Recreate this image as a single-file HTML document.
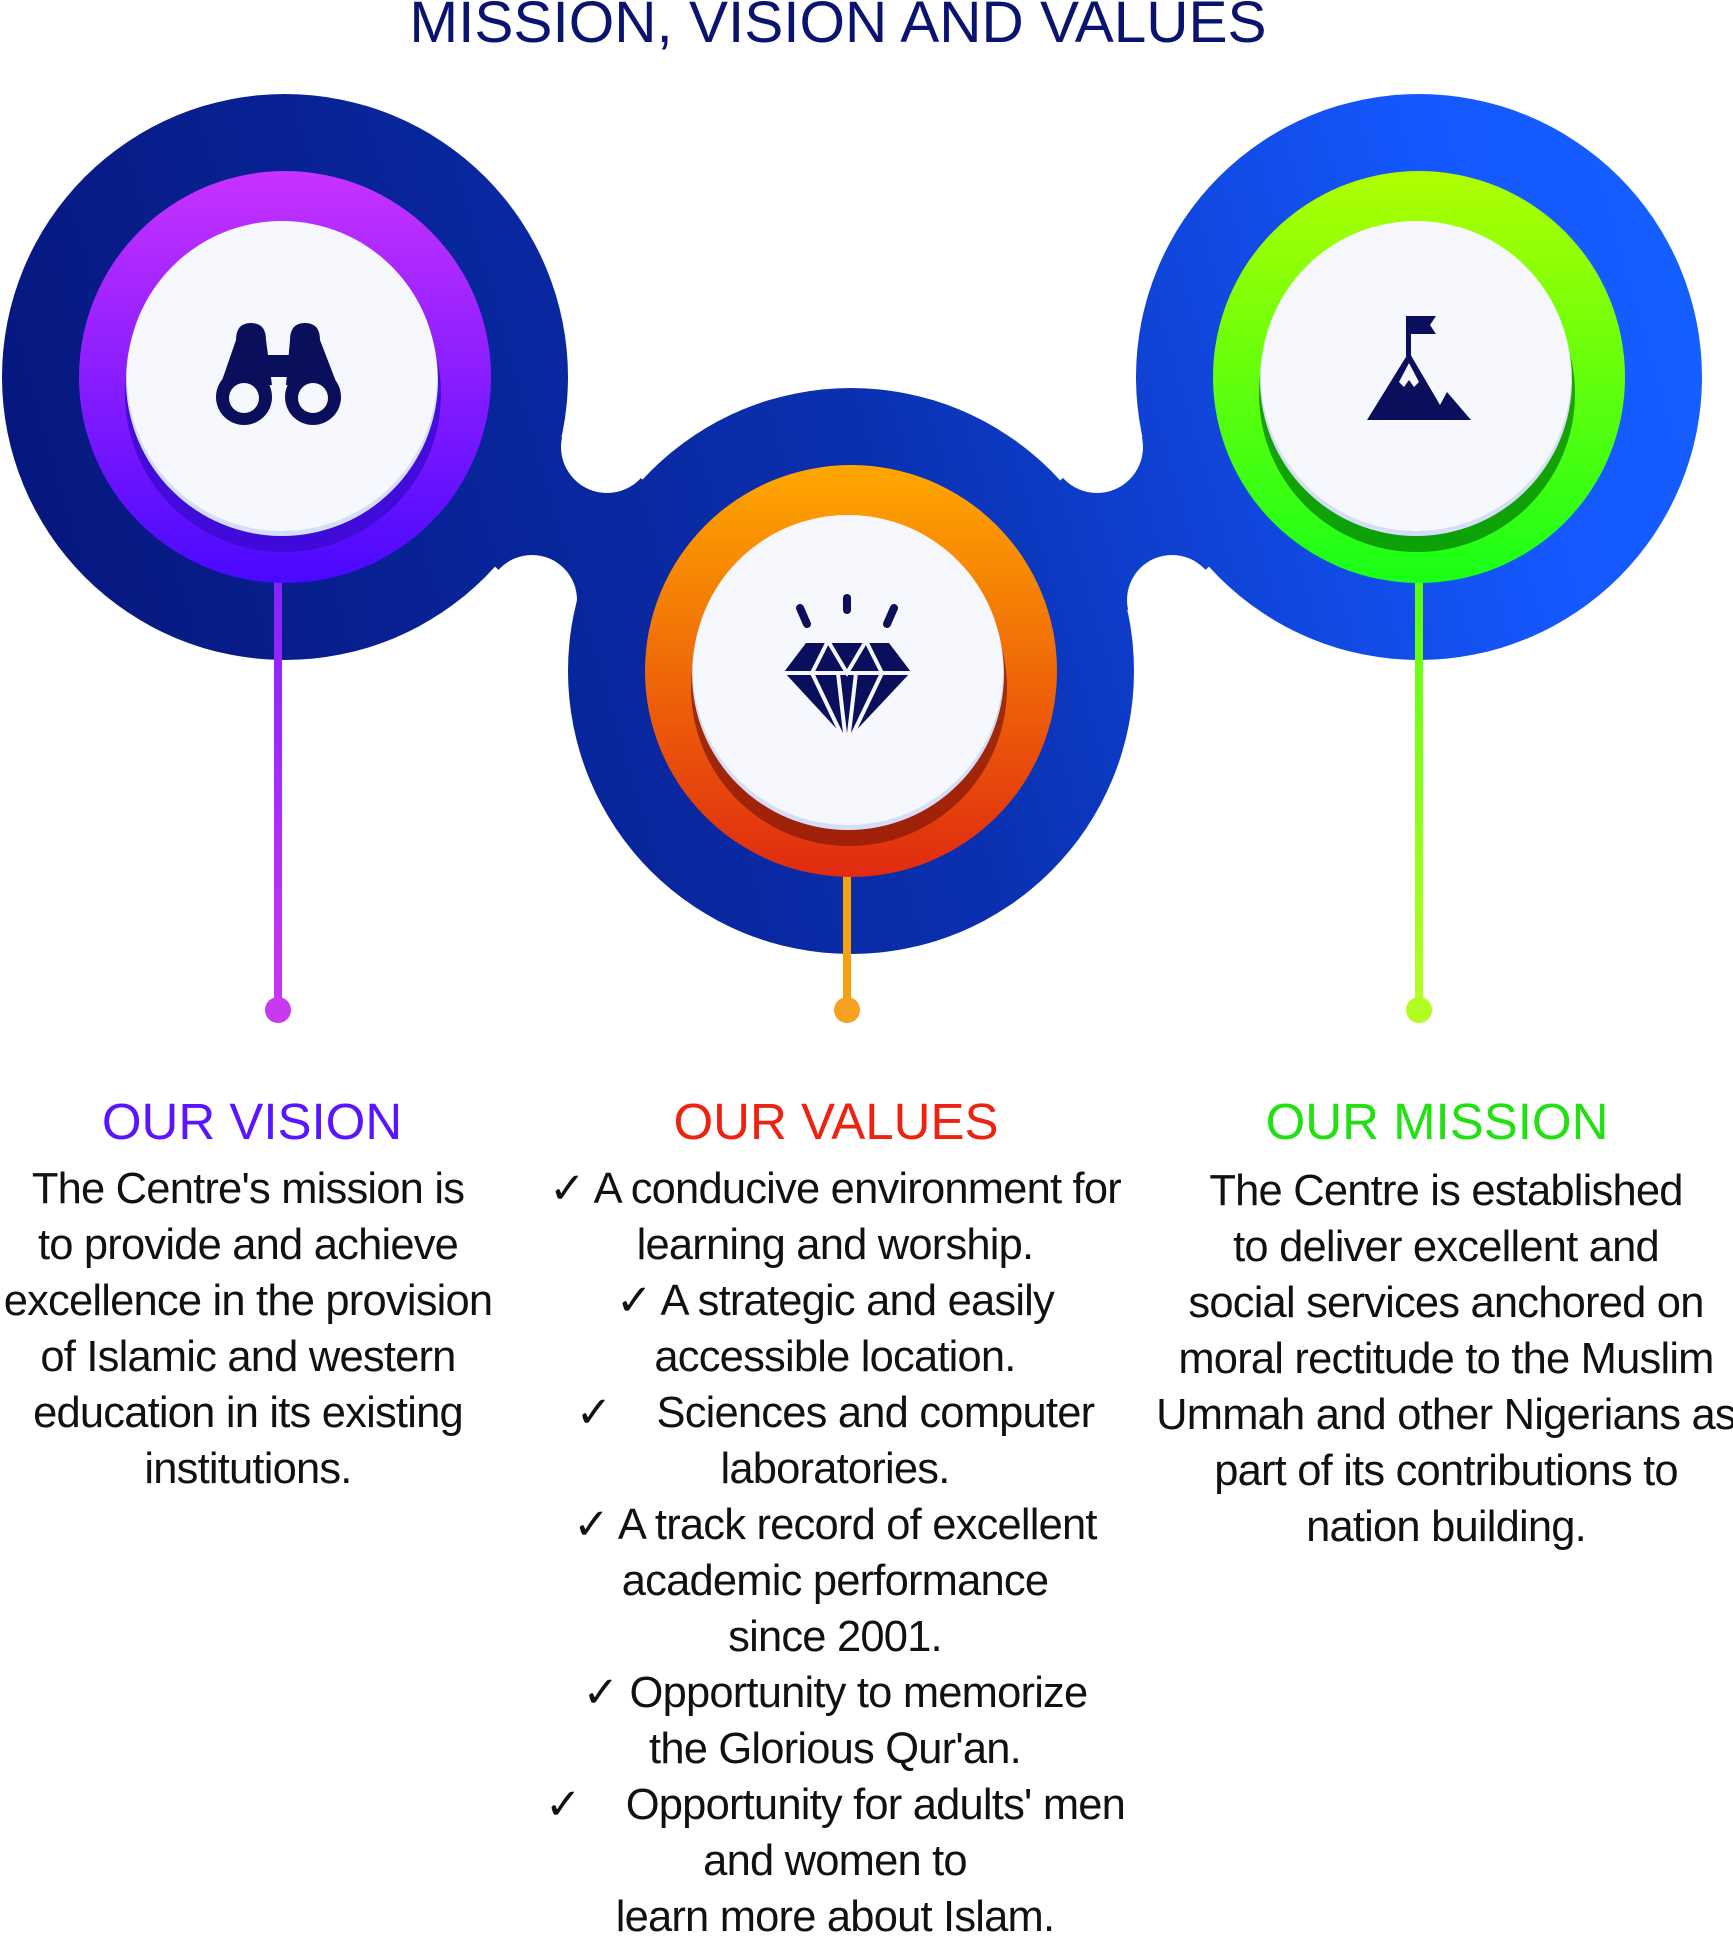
<!DOCTYPE html>
<html><head><meta charset="utf-8"><style>
html,body{margin:0;padding:0;background:#fff}
body{width:1733px;height:1931px;position:relative;overflow:hidden;font-family:"Liberation Sans",sans-serif}
svg{position:absolute;left:0;top:0}
.t{position:absolute;white-space:pre;transform:translateX(-50%);color:#111}
.h{font-size:51px;line-height:60px}
.b{font-size:43.5px;line-height:56px;letter-spacing:-0.8px}
</style></head><body>
<svg width="1733" height="1931" viewBox="0 0 1733 1931">
<defs>
<linearGradient id="bl" gradientUnits="userSpaceOnUse" x1="0" y1="700" x2="1733" y2="200">
<stop offset="0" stop-color="#06157a"/><stop offset="0.5" stop-color="#0a30b0"/><stop offset="0.85" stop-color="#1558ff"/><stop offset="1" stop-color="#1560ff"/></linearGradient>
<linearGradient id="pu" x1="0" y1="0" x2="0" y2="1"><stop offset="0" stop-color="#c832ff"/><stop offset="1" stop-color="#4a08ff"/></linearGradient>
<linearGradient id="or" x1="0" y1="0" x2="0" y2="1"><stop offset="0" stop-color="#ffa800"/><stop offset="1" stop-color="#e02a10"/></linearGradient>
<linearGradient id="gr" x1="0" y1="0" x2="0" y2="1"><stop offset="0" stop-color="#b0ff00"/><stop offset="1" stop-color="#18ff18"/></linearGradient>
<linearGradient id="lp" x1="0" y1="0" x2="0" y2="1"><stop offset="0" stop-color="#8020ff"/><stop offset="1" stop-color="#c838f0"/></linearGradient>
<linearGradient id="lg" x1="0" y1="0" x2="0" y2="1"><stop offset="0" stop-color="#50ff10"/><stop offset="1" stop-color="#b8ff20"/></linearGradient>
</defs>
<g fill="url(#bl)">
<polygon points="285,377 607,447 851,671 532,600"/>
<polygon points="1419,377 1097,447 851,671 1172,600"/>
</g>
<g fill="#fff">
<circle cx="607" cy="447" r="46"/><circle cx="532" cy="600" r="45"/>
<circle cx="1097" cy="447" r="46"/><circle cx="1172" cy="600" r="45"/>
</g>
<g fill="url(#bl)">
<circle cx="285" cy="377" r="283"/><circle cx="851" cy="671" r="283"/><circle cx="1419" cy="377" r="283"/>
</g>
<rect x="274" y="540" width="8" height="470" fill="url(#lp)"/><circle cx="278" cy="1010" r="13" fill="#c83af0"/>
<rect x="843" y="840" width="8" height="170" fill="#f5a010"/><circle cx="847" cy="1010" r="13" fill="#f8a020"/>
<rect x="1415" y="540" width="8" height="470" fill="url(#lg)"/><circle cx="1419" cy="1010" r="13" fill="#b0ff20"/>
<circle cx="285" cy="377" r="206" fill="url(#pu)"/>
<circle cx="851" cy="671" r="206" fill="url(#or)"/>
<circle cx="1419" cy="377" r="206" fill="url(#gr)"/>
<circle cx="283" cy="394" r="158" fill="#3a0ad0" opacity="0.8"/>
<circle cx="849" cy="688" r="158" fill="#8a1a08" opacity="0.75"/>
<circle cx="1417" cy="394" r="158" fill="#007a00" opacity="0.7"/>
<g fill="#d4def8"><circle cx="282" cy="380" r="156"/><circle cx="848" cy="674" r="156"/><circle cx="1416" cy="380" r="156"/></g>
<g fill="#f6f8fd"><circle cx="282" cy="376" r="155"/><circle cx="848" cy="670" r="155"/><circle cx="1416" cy="376" r="155"/></g>
<g fill="#0a0f5c">
<path d="M236,340 Q236,323 251,323 Q266,323 266,340 L272,385 L218,392 Z"/>
<path d="M290,340 Q290,323 305,323 Q320,323 320,340 L340,392 L286,385 Z"/>
<rect x="264" y="355" width="28" height="22"/>
<circle cx="244" cy="397" r="28"/><circle cx="313" cy="397" r="28"/>
</g>
<g fill="#f6f8fd"><circle cx="244" cy="398" r="15"/><circle cx="313" cy="398" r="15"/></g>
<g fill="#0a0f5c">
<polygon points="806,643 889,643 911,672 847,740 784,672"/>
<rect x="843" y="594" width="8" height="20" rx="4"/>
<line x1="800" y1="608" x2="807" y2="624" stroke="#0a0f5c" stroke-width="8" stroke-linecap="round"/>
<line x1="894" y1="608" x2="887" y2="624" stroke="#0a0f5c" stroke-width="8" stroke-linecap="round"/>
</g>
<g stroke="#f6f8fd" stroke-width="4" fill="none">
<line x1="780" y1="673" x2="915" y2="673"/>
<polyline points="828,641 847,673 866,641"/>
<line x1="827" y1="643" x2="812" y2="673"/><line x1="867" y1="643" x2="882" y2="673"/>
<polyline points="812,673 845,742"/><polyline points="882,673 849,742"/>
<line x1="838" y1="673" x2="846" y2="742"/><line x1="856" y1="673" x2="848" y2="742"/>
</g>
<g fill="#0a0f5c">
<rect x="1406" y="316" width="5" height="40"/>
<polygon points="1406,316 1436,316 1430,325 1436,334 1406,334"/>
<polygon points="1367,420 1409,352 1440,405 1447,392 1471,420"/>
</g>
<polygon points="1409,363 1399,382 1404,387 1409,380 1414,387 1419,382" fill="#f6f8fd"/>
</svg>
<div class="t" style="left:838px;top:-9px;font-size:58.5px;color:#0a1470;line-height:64px">MISSION, VISION AND VALUES</div>
<div class="t h" style="left:252px;top:1092px;color:#5a14ff">OUR VISION</div>
<div class="t h" style="left:836px;top:1092px;color:#ee2210">OUR VALUES</div>
<div class="t h" style="left:1437px;top:1092px;color:#22e012">OUR MISSION</div>
<div class="t b" style="left:248px;top:1161px;text-align:center">The Centre's mission is
to provide and achieve
excellence in the provision
of Islamic and western
education in its existing
institutions.</div>
<div class="t b" style="left:835px;top:1161px;text-align:center">✓ A conducive environment for
learning and worship.
✓ A strategic and easily
accessible location.
✓    Sciences and computer
laboratories.
✓ A track record of excellent
academic performance
since 2001.
✓ Opportunity to memorize
the Glorious Qur'an.
✓    Opportunity for adults' men
and women to
learn more about Islam.</div>
<div class="t b" style="left:1446px;top:1163px;text-align:center">The Centre is established
to deliver excellent and
social services anchored on
moral rectitude to the Muslim
Ummah and other Nigerians as
part of its contributions to
nation building.</div>
</body></html>
